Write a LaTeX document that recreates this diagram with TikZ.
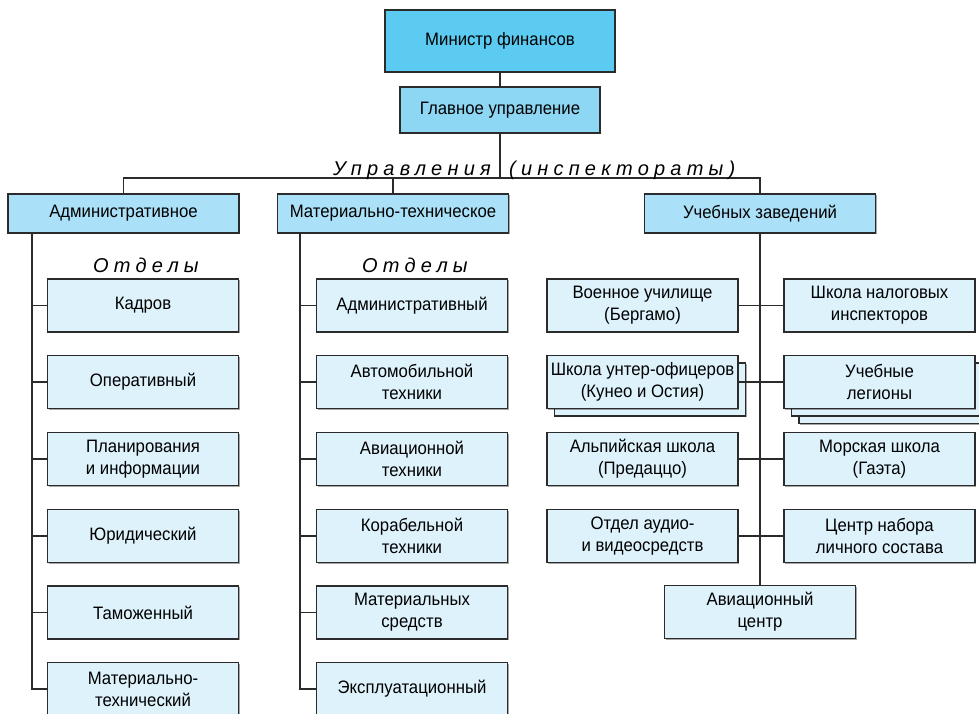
\documentclass[tikz,border=0pt]{standalone}
\usepackage{fontspec}
\setmainfont[FakeStretch=0.93]{Liberation Sans}
\newfontfamily\spacedfont[LetterSpace=26]{Liberation Sans}
\usetikzlibrary{shadows}
\definecolor{cTop}{HTML}{5CCBF2}
\definecolor{cMain}{HTML}{8DD7F5}
\definecolor{cSec}{HTML}{AAE1F8}
\definecolor{cLeaf}{HTML}{DDF2FB}
\definecolor{cLine}{HTML}{2B2B2B}
\tikzset{
  box/.style={draw=cLine, line width=1.5pt, rectangle, align=center, inner sep=2pt,
    font=\fontsize{18}{22}\selectfont,
    drop shadow={shadow xshift=1.2pt, shadow yshift=-1.2pt, fill=black, opacity=0.35}},
  leaf/.style={box, fill=cLeaf, minimum width=191pt, minimum height=53pt},
  sec/.style={box, fill=cSec, minimum width=231pt, minimum height=39pt},
  link/.style={draw=cLine, line width=1.6pt},
  grouplabel/.style={font=\fontsize{20}{22}\selectfont\spacedfont\itshape, inner sep=0pt}
}
\begin{document}
\begin{tikzpicture}[x=1pt, y=-1pt]
\clip (0,0) rectangle (979,713);
\fill[white] (0,0) rectangle (979,713);
% top levels
\node[box, fill=cTop, minimum width=230pt, minimum height=62pt] (min) at (500,41) {Министр финансов};
\node[box, fill=cMain, minimum width=200pt, minimum height=46pt] (gl) at (500,110) {Главное управление};
\node[sec] (adm) at (123.5,213.5) {Административное};
\node[sec] (mat) at (393,213.5) {Материально-техническое};
\node[sec] (ucz) at (760,213.5) {Учебных заведений};
\coordinate (bus) at (500,178);
\draw[link] (min.south) -- (gl.north);
\draw[link] (gl.south) -- (bus);
\draw[link] (adm.north) |- (bus) -| (ucz.north);
\draw[link] (mat.north) -- (mat.north |- bus);
\node[grouplabel, anchor=base east] (lu) at (491,175) {Управления};
\node[grouplabel, anchor=base west] (li) at (509,175) {(инспектораты)};
\node[grouplabel, anchor=base west] (o1) at (93,272) {Отделы};
\node[grouplabel, anchor=base west] (o2) at (362,272) {Отделы};
% left column
\node[leaf] (k1) at (143,305.5) {Кадров};
\node[leaf] (k2) at (143,382) {Оперативный};
\node[leaf] (k3) at (143,459) {Планирования\\и информации};
\node[leaf] (k4) at (143,536) {Юридический};
\node[leaf] (k5) at (143,612.5) {Таможенный};
\node[leaf] (k6) at (143,689) {Материально-\\технический};
\coordinate (aX) at (32,0);
\draw[link] (aX |- adm.south) |- (k6.west);
\foreach \i in {1,...,5} {\draw[link] (k\i.west) -- (k\i.west -| aX);}
% middle column
\node[leaf] (m1) at (412,305.5) {Административный};
\node[leaf] (m2) at (412,382) {Автомобильной\\техники};
\node[leaf] (m3) at (412,459) {Авиационной\\техники};
\node[leaf] (m4) at (412,536) {Корабельной\\техники};
\node[leaf] (m5) at (412,612.5) {Материальных\\средств};
\node[leaf] (m6) at (412,689) {Эксплуатационный};
\coordinate (mX) at (300,0);
\draw[link] (mX |- mat.south) |- (m6.west);
\foreach \i in {1,...,5} {\draw[link] (m\i.west) -- (m\i.west -| mX);}
% right column
\node[leaf] (av) at (760,612) {Авиационный\\центр};
\draw[link] (ucz.south) -- (av.north);
\node[leaf] (rl2b) at (650,389.5) {};
\node[leaf] (rr2c) at (894.5,397) {};
\node[leaf] (rr2b) at (887,389.5) {};
\node[leaf] (rl1) at (642.5,305.5) {Военное училище\\(Бергамо)};
\node[leaf] (rr1) at (879.5,305.5) {Школа налоговых\\инспекторов};
\node[leaf] (rl2) at (642.5,382) {Школа унтер-офицеров\\(Кунео и Остия)};
\node[leaf] (rr2) at (879.5,382) {Учебные\\легионы};
\node[leaf] (rl3) at (642.5,459) {Альпийская школа\\(Предаццо)};
\node[leaf] (rr3) at (879.5,459) {Морская школа\\(Гаэта)};
\node[leaf] (rl4) at (642.5,536) {Отдел аудио-\\и видеосредств};
\node[leaf] (rr4) at (879.5,536) {Центр набора\\личного состава};
\foreach \i in {1,...,4} {\draw[link] (rl\i.east) -- (rr\i.west);}
\end{tikzpicture}
\end{document}
